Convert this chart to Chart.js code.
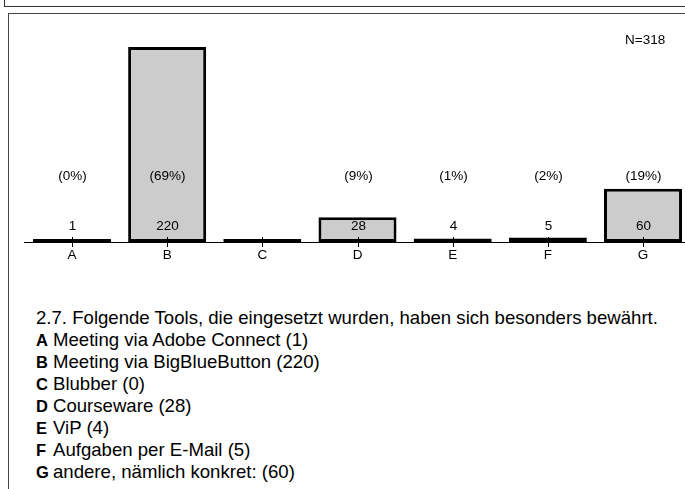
<!DOCTYPE html>
<html>
<head>
<meta charset="utf-8">
<script src="https://cdn.jsdelivr.net/npm/chart.js@4.4.1/dist/chart.umd.min.js"></script>
<style>
  html, body { margin:0; padding:0; background:#fff; overflow:hidden; width:685px; height:489px; }
  body { position:relative; font-family:"Liberation Sans", Arial, sans-serif; color:#000; }
  #topBox { position:absolute; left:4px; top:-12px; width:720px; height:17px; border:1.5px solid #333; }
  #frame { position:absolute; left:8px; top:13px; width:720px; height:520px; border:1.5px solid #444; }
  #chartWrap { position:absolute; left:0; top:0; width:700px; height:270px; }
  #nLabel { position:absolute; left:625px; top:32px; font-size:13.5px; }
  #legend { position:absolute; left:36px; top:307px; font-size:18.6px; line-height:22px; white-space:nowrap; }
  #legend b { display:inline-block; width:17px; font-size:16.5px; }
</style>
</head>
<body>
<div id="topBox"></div>
<div id="frame"></div>
<div id="chartWrap"><canvas id="toolChart" width="700" height="270"></canvas></div>
<div id="nLabel">N=318</div>
<div id="legend"></div>
<script>
const categories = ["A","B","C","D","E","F","G"];
const counts = [1, 220, 0, 28, 4, 5, 60];
const countLabels = ["1","220","","28","4","5","60"];
const percents = ["(0%)","(69%)","","(9%)","(1%)","(2%)","(19%)"];
const itemNames = ["Meeting via Adobe Connect","Meeting via BigBlueButton","Blubber","Courseware","ViP","Aufgaben per E-Mail","andere, nämlich konkret:"];
const questionText = "2.7. Folgende Tools, die eingesetzt wurden, haben sich besonders bewährt.";

// legend below the chart
let html = questionText + "<br>";
categories.forEach((c,i)=>{
    html += `<b>${c}</b>${itemNames[i]} (${counts[i]})<br>`;
});
document.getElementById("legend").innerHTML = html;

const labelPlugin = {
    id:'labelPlugin',
    afterDatasetsDraw(chart){
        const ctx = chart.ctx;
        const xs = chart.scales.x, ys = chart.scales.y;
        const base = ys.getPixelForValue(0);
        ctx.save();
        ctx.strokeStyle = '#000';
        ctx.lineWidth = 1;
        ctx.fillStyle = '#000';
        ctx.font = '13.5px "Liberation Sans", Arial, sans-serif';
        ctx.textAlign = 'center';
        ctx.textBaseline = 'middle';
        categories.forEach((c,i)=>{
            const x = Math.round(xs.getPixelForValue(i)) + 0.5;
            ctx.beginPath();
            ctx.moveTo(x, base-5);
            ctx.lineTo(x, base+5);
            ctx.stroke();
            if(countLabels[i]) ctx.fillText(countLabels[i], x, base-16);
            if(percents[i]) ctx.fillText(percents[i], x, base-66);
        });
        ctx.restore();
    }
};

new Chart(document.getElementById("toolChart").getContext("2d"),{
    type:'bar',
    data:{
        labels: categories,
        datasets:[{
            data: counts,
            backgroundColor:'#cccccc',
            borderColor:'#000',
            borderWidth:3,
            borderSkipped:false,
            minBarLength:3,
            barPercentage:0.82,
            categoryPercentage:1
        }]
    },
    options:{
        responsive:false,
        animation:false,
        layout:{padding:{left:24.4, right:9.4, top:20.4, bottom:0}},
        plugins:{legend:{display:false}, tooltip:{enabled:false}},
        scales:{
            x:{
                grid:{display:false, drawTicks:false},
                border:{display:true, color:'#000', width:1},
                ticks:{padding:5, color:'#000', font:{size:13.5, family:'"Liberation Sans", Arial, sans-serif'}},
                afterFit(scale){ scale.height = 28; }
            },
            y:{display:false, min:0, max:250}
        }
    },
    plugins:[labelPlugin]
});
</script>
</body>
</html>
